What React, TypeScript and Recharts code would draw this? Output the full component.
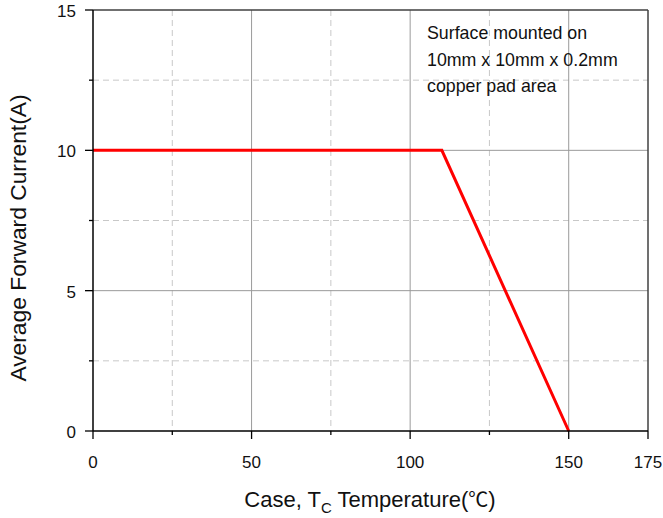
import { LineChart, Line, XAxis, YAxis, CartesianGrid, Label } from "recharts";

// Derating curve: case temperature (°C) vs average forward current (A)
const temperature = [0, 110, 150];
const current = [10, 10, 0];

const xTicks = [0, 25, 50, 75, 100, 125, 150, 175];
const xLabelled = [0, 50, 100, 150, 175];
const yTicks = [0, 2.5, 5, 7.5, 10, 12.5, 15];
const yLabelled = [0, 5, 10, 15];

const xMajorGrid = [50, 100, 150];
const xMinorGrid = [25, 75, 125];
const yMajorGrid = [5, 10];
const yMinorGrid = [2.5, 7.5, 12.5];

const noteLines = ["Surface mounted on", "10mm x 10mm x 0.2mm", "copper pad area"];

const data = temperature.map((t, i) => ({ t, a: current[i] }));

const FONT = "'Liberation Sans', Arial, sans-serif";

function XTick({ x, y, payload }: any) {
  const major = xLabelled.includes(payload.value);
  return (
    <g>
      <line x1={x} y1={y} x2={x} y2={y + (major ? 8 : 4)} stroke="#000" strokeWidth={1.3} />
      {major && (
        <text x={x} y={y + 37} textAnchor="middle" fontSize={17} fill="#111" fontFamily={FONT}>
          {payload.value}
        </text>
      )}
    </g>
  );
}

function YTick({ x, y, payload }: any) {
  const major = yLabelled.includes(payload.value);
  return (
    <g>
      <line x1={x} y1={y} x2={x - (major ? 8 : 4)} y2={y} stroke="#000" strokeWidth={1.3} />
      {major && (
        <text x={x - 17} y={y + 7} textAnchor="end" fontSize={17} fill="#111" fontFamily={FONT}>
          {payload.value}
        </text>
      )}
    </g>
  );
}

function XTitle() {
  return (
    <text x={370} y={507} textAnchor="middle" fontSize={22} fill="#111" fontFamily={FONT}>
      Case, T
      <tspan fontSize={15} dy={6}>C</tspan>
      <tspan dy={-6}> Temperature(</tspan>
      <tspan fontFamily="'Noto Sans CJK SC', sans-serif" fontSize={20}>℃</tspan>
      <tspan>)</tspan>
    </text>
  );
}

function YTitle() {
  return (
    <text
      x={18}
      y={238}
      transform="rotate(-90, 18, 238)"
      textAnchor="middle"
      dominantBaseline="central"
      fontSize={22.8}
      fill="#111"
      fontFamily={FONT}
    >
      Average Forward Current(A)
    </text>
  );
}

export default function App() {
  return (
    <div style={{ position: "absolute", left: 0, top: 0, width: 663, height: 518, background: "#fff" }}>
      <LineChart
        width={663}
        height={518}
        data={data}
        margin={{ top: 10, right: 15, bottom: 0, left: 0 }}
      >
        <CartesianGrid
          horizontalValues={yMinorGrid}
          verticalValues={xMinorGrid}
          stroke="#c8c8c8"
          strokeDasharray="6 4"
        />
        <CartesianGrid
          horizontalValues={yMajorGrid}
          verticalValues={xMajorGrid}
          stroke="#9a9a9a"
        />
        <CartesianGrid horizontalValues={[15]} verticalValues={[175]} stroke="#404040" strokeWidth={1.5} />
        <XAxis
          dataKey="t"
          type="number"
          domain={[0, 175]}
          ticks={xTicks}
          interval={0}
          height={87}
          tickSize={0}
          tickMargin={0}
          tickLine={false}
          tick={<XTick />}
          axisLine={{ stroke: "#000", strokeWidth: 1.5 }}
        >
          <Label content={<XTitle />} />
        </XAxis>
        <YAxis
          type="number"
          domain={[0, 15]}
          ticks={yTicks}
          interval={0}
          width={93}
          tickSize={0}
          tickMargin={0}
          tickLine={false}
          tick={<YTick />}
          axisLine={{ stroke: "#000", strokeWidth: 1.5 }}
        >
          <Label content={<YTitle />} />
        </YAxis>
        <Line
          type="linear"
          dataKey="a"
          stroke="#ff0000"
          strokeWidth={3}
          dot={false}
          activeDot={false}
          isAnimationActive={false}
        />
      </LineChart>
      <div
        style={{
          position: "absolute",
          left: 427,
          top: 20,
          fontFamily: FONT,
          fontSize: 17.8,
          lineHeight: "26.5px",
          color: "#111",
          whiteSpace: "nowrap",
        }}
      >
        {noteLines.map((l) => (
          <div key={l}>{l}</div>
        ))}
      </div>
    </div>
  );
}
